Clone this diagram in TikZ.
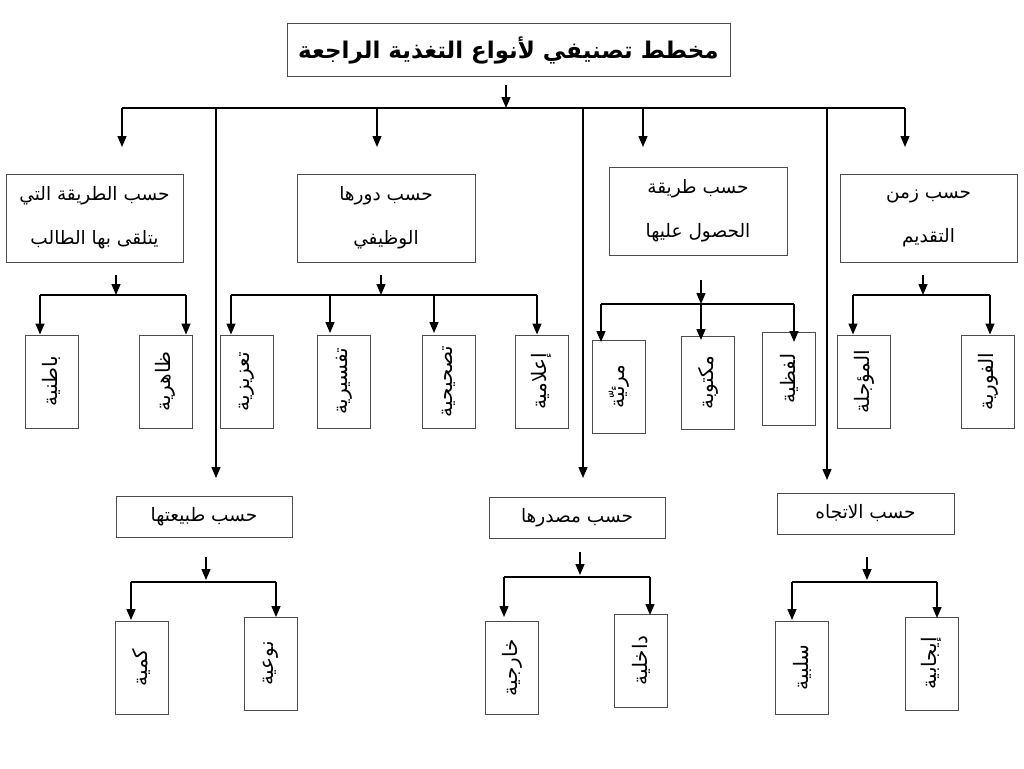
\documentclass[tikz,border=0pt]{standalone}
\usepackage{fontspec}
\newfontfamily\arabicfont[Script=Arabic]{DejaVu Sans}
\TeXXeTstate=1
\usetikzlibrary{arrows.meta}
\newcommand{\AR}[1]{\beginR #1\endR}
\newcommand{\VR}[1]{\rotatebox{90}{\beginR #1\endR}}
\begin{document}
\begin{tikzpicture}[x=1pt,y=-1pt,
  titlebox/.style={draw=black!70, line width=1pt, inner sep=0pt, font=\arabicfont\bfseries\fontsize{23}{27}\selectfont},
  catbox/.style={draw=black!70, line width=1pt, inner sep=0pt, align=center, font=\arabicfont\fontsize{18.5}{44}\selectfont},
  leafbox/.style={draw=black!70, line width=1pt, minimum width=53pt, minimum height=93pt, inner sep=0pt, font=\arabicfont\fontsize{20}{24}\selectfont},
  conn/.style={line width=1.4pt, black},
  arr/.style={conn, -{Triangle[width=9pt,length=11pt]}}]
\useasboundingbox (0,0) rectangle (1024,768);
\fill[white] (0,0) rectangle (1024,768);

% title
\node[titlebox, minimum width=443pt, minimum height=52pt] (title) at (508.5,50) {\AR{مخطط تصنيفي لأنواع التغذية الراجعة}};

% category boxes
\node[catbox, minimum width=177pt, minimum height=88pt] (c1) at (94.5,218) {\AR{حسب الطريقة التي}\\\AR{يتلقى بها الطالب}};
\node[catbox, minimum width=178pt, minimum height=88pt] (c2) at (386,218) {\AR{حسب دورها}\\\AR{الوظيفي}};
\node[catbox, minimum width=178pt, minimum height=88pt] (c3) at (698,211) {\AR{حسب طريقة}\\\AR{الحصول عليها}};
\node[catbox, minimum width=177pt, minimum height=88pt] (c4) at (928.5,218) {\AR{حسب زمن}\\\AR{التقديم}};
\node[catbox, minimum width=176pt, minimum height=41pt] (c5) at (204,516.5) {\AR{حسب طبيعتها}};
\node[catbox, minimum width=176pt, minimum height=41pt] (c6) at (577,517.5) {\AR{حسب مصدرها}};
\node[catbox, minimum width=177pt, minimum height=41pt] (c7) at (865.5,513.5) {\AR{حسب الاتجاه}};

% leaf boxes
\node[leafbox] (l1) at (51.5,381.5) {\VR{باطنية}};
\node[leafbox] (l2) at (165.5,381.5) {\VR{ظاهرية}};
\node[leafbox] (l3) at (247,381.5) {\VR{تعزيزية}};
\node[leafbox] (l4) at (344,381.5) {\VR{تفسيرية}};
\node[leafbox] (l5) at (448.5,381.5) {\VR{تصحيحية}};
\node[leafbox] (l6) at (541.5,381.5) {\VR{إعلامية}};
\node[leafbox] (l7) at (619,386.5) {\VR{مرئيّة}};
\node[leafbox] (l8) at (708,382.5) {\VR{مكتوبة}};
\node[leafbox] (l9) at (789,378.5) {\VR{لفظية}};
\node[leafbox] (l10) at (864,381.5) {\VR{المؤجلة}};
\node[leafbox] (l11) at (988,381.5) {\VR{الفورية}};
\node[leafbox] (l12) at (141.5,667.5) {\VR{كمية}};
\node[leafbox] (l13) at (270.5,663.5) {\VR{نوعية}};
\node[leafbox] (l14) at (512,667.5) {\VR{خارجية}};
\node[leafbox] (l15) at (641,660.5) {\VR{داخلية}};
\node[leafbox] (l16) at (802,667.5) {\VR{سلبية}};
\node[leafbox] (l17) at (931.5,663.5) {\VR{إيجابية}};

% main trunk
\coordinate (t0) at (506,85);
\coordinate (t1) at (506,108);
\coordinate (hl) at (122,108);
\coordinate (hr) at (905,108);
\draw[arr] (t0) -- (t1);
\draw[conn] (hl) -- (hr);
\draw[arr] (hl) -- (122,147);
\draw[arr] (377,108) -- (377,147);
\draw[arr] (643,108) -- (643,147);
\draw[arr] (hr) -- (905,147);
\draw[arr] (216,108) -- (216,478);
\draw[arr] (583,108) -- (583,478);
\draw[arr] (827,108) -- (827,480);

% group 1
\coordinate (g1s) at (116,275); \coordinate (g1b) at (116,295);
\coordinate (g1l) at (40,295); \coordinate (g1r) at (186,295);
\draw[arr] (g1s) -- (g1b);
\draw[conn] (g1l) -- (g1r);
\draw[arr] (g1l) -- (g1l |- l1.north);
\draw[arr] (g1r) -- (g1r |- l2.north);

% group 2
\coordinate (g2s) at (381,275); \coordinate (g2b) at (381,295);
\coordinate (g2l) at (231,295); \coordinate (g2r) at (537,295);
\draw[arr] (g2s) -- (g2b);
\draw[conn] (g2l) -- (g2r);
\draw[arr] (g2l) -- (g2l |- l3.north);
\draw[arr] (330,295) -- (330,333);
\draw[arr] (434,295) -- (434,333);
\draw[arr] (g2r) -- (g2r |- l6.north);

% group 3
\coordinate (g3s) at (701,280); \coordinate (g3b) at (701,304);
\coordinate (g3l) at (601,304); \coordinate (g3r) at (794,304);
\draw[arr] (g3s) -- (g3b);
\draw[conn] (g3l) -- (g3r);
\draw[arr] (g3l) -- (601,342);
\draw[arr] (g3b) -- (701,340);
\draw[arr] (g3r) -- (794,342);

% group 4
\coordinate (g4s) at (923,275); \coordinate (g4b) at (923,295);
\coordinate (g4l) at (853,295); \coordinate (g4r) at (990,295);
\draw[arr] (g4s) -- (g4b);
\draw[conn] (g4l) -- (g4r);
\draw[arr] (g4l) -- (g4l |- l10.north);
\draw[arr] (g4r) -- (g4r |- l11.north);

% group 5
\coordinate (g5s) at (206,557); \coordinate (g5b) at (206,580);
\coordinate (g5l) at (131,582); \coordinate (g5r) at (276,582);
\draw[arr] (g5s) -- (g5b);
\draw[conn] (g5l) -- (g5r);
\draw[arr] (g5l) -- (131,620);
\draw[arr] (g5r) -- (276,617);

% group 6
\coordinate (g6s) at (580,552); \coordinate (g6b) at (580,575);
\coordinate (g6l) at (504,577); \coordinate (g6r) at (650,577);
\draw[arr] (g6s) -- (g6b);
\draw[conn] (g6l) -- (g6r);
\draw[arr] (g6l) -- (504,617);
\draw[arr] (g6r) -- (650,615);

% group 7
\coordinate (g7s) at (867,557); \coordinate (g7b) at (867,580);
\coordinate (g7l) at (792,582); \coordinate (g7r) at (937,582);
\draw[arr] (g7s) -- (g7b);
\draw[conn] (g7l) -- (g7r);
\draw[arr] (g7l) -- (792,620);
\draw[arr] (g7r) -- (937,618);
\end{tikzpicture}
\end{document}
